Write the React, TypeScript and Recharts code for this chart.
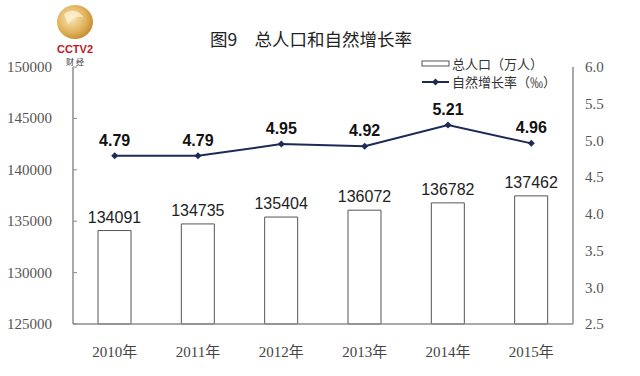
import {
  ComposedChart,
  Bar,
  Line,
  XAxis,
  YAxis,
  LabelList,
  Legend,
} from 'recharts';

const years = ['2010年', '2011年', '2012年', '2013年', '2014年', '2015年'];
const population = [134091, 134735, 135404, 136072, 136782, 137462];
const growthRate = [4.79, 4.79, 4.95, 4.92, 5.21, 4.96];
const leftTicks = [125000, 130000, 135000, 140000, 145000, 150000];
const rightTicks = [2.5, 3.0, 3.5, 4.0, 4.5, 5.0, 5.5, 6.0];

const data = years.map((year, i) => ({
  year,
  population: population[i],
  rate: growthRate[i],
}));

const SERIF = '"Liberation Serif", "Noto Sans CJK SC", serif';
const SANS = '"Liberation Sans", Arial, sans-serif';
const CJK = '"Noto Sans CJK SC", sans-serif';
const LINE_COLOR = '#1c2a55';
const AXIS_COLOR = '#8c8c8c';

// 左轴刻度：文字 + 轴内侧的短刻度线
const LeftTick = (props: any) => {
  const { x, y, payload } = props;
  return (
    <g>
      <line x1={x + 21} x2={x + 25} y1={y} y2={y} stroke={AXIS_COLOR} />
      <text
        x={x}
        y={y}
        dy={5}
        textAnchor="end"
        fontSize={15}
        fontFamily={SERIF}
        fill="#555"
      >
        {payload.value}
      </text>
    </g>
  );
};

const Diamond = (props: any) => {
  const { cx, cy } = props;
  if (cx == null || cy == null) return null;
  const r = 3.5;
  return (
    <path
      d={`M${cx},${cy - r} L${cx + r},${cy} L${cx},${cy + r} L${cx - r},${cy} Z`}
      fill={LINE_COLOR}
    />
  );
};

const LegendBox = () => (
  <div style={{ fontFamily: CJK, fontSize: 13, color: '#333', lineHeight: '18px' }}>
    <div style={{ display: 'flex', alignItems: 'center' }}>
      <svg width={32} height={18}>
        <rect x={2} y={6} width={27} height={5} fill="#fff" stroke="#555" />
      </svg>
      <span>总人口（万人）</span>
    </div>
    <div style={{ display: 'flex', alignItems: 'center' }}>
      <svg width={32} height={18}>
        <line x1={2} x2={29} y1={9} y2={9} stroke={LINE_COLOR} strokeWidth={2} />
        <path d="M15.5,5.5 L19,9 L15.5,12.5 L12,9 Z" fill={LINE_COLOR} />
      </svg>
      <span>自然增长率（‰）</span>
    </div>
  </div>
);

const Logo = () => (
  <svg
    width={50}
    height={70}
    style={{ position: 'absolute', left: 50, top: 2 }}
  >
    <defs>
      <radialGradient id="gold" cx="40%" cy="40%" r="60%">
        <stop offset="0%" stopColor="#fbe7b5" />
        <stop offset="70%" stopColor="#e0b15a" />
        <stop offset="100%" stopColor="#c8923a" />
      </radialGradient>
    </defs>
    <ellipse cx={25} cy={20} rx={18} ry={17} fill="url(#gold)" />
    <path d="M14,12 Q25,4 34,16 Q26,12 18,22 Z" fill="#fff6dc" opacity={0.7} />
    <text x={25} y={51} textAnchor="middle" fontSize={11} fontWeight="bold" fontFamily={SANS} fill="#c0181f">
      CCTV2
    </text>
    <text x={25} y={63} textAnchor="middle" fontSize={8} fontFamily={CJK} fill="#333">
      财 经
    </text>
  </svg>
);

export default function App() {
  return (
    <div
      style={{
        position: 'absolute',
        left: 0,
        top: 0,
        width: 640,
        height: 376,
        background: '#fff',
      }}
    >
      <Logo />
      <div
        style={{
          position: 'absolute',
          left: 0,
          width: 622,
          top: 26,
          textAlign: 'center',
          fontFamily: CJK,
          fontSize: 17.5,
          color: '#222',
          whiteSpace: 'pre',
        }}
      >
        图9　总人口和自然增长率
      </div>
      <ComposedChart
        width={640}
        height={376}
        data={data}
        margin={{ top: 67, right: 0, left: 0, bottom: 0 }}
        style={{ position: 'absolute', left: 0, top: 0 }}
      >
        <XAxis
          dataKey="year"
          height={52}
          tickLine={false}
          axisLine={{ stroke: AXIS_COLOR, strokeWidth: 1.5 }}
          tickMargin={16}
          tick={{ fontSize: 15, fontFamily: SERIF, fill: '#444' }}
        />
        <YAxis
          yAxisId="left"
          width={73}
          domain={[125000, 150000]}
          ticks={leftTicks}
          interval={0}
          tickSize={0}
          tickMargin={21}
          axisLine={{ stroke: AXIS_COLOR, strokeWidth: 1.5 }}
          tick={<LeftTick />}
        />
        <YAxis
          yAxisId="right"
          orientation="right"
          width={67}
          domain={[2.5, 6.0]}
          ticks={rightTicks}
          interval={0}
          tickSize={0}
          tickMargin={12}
          tickFormatter={(v: number) => v.toFixed(1)}
          axisLine={{ stroke: AXIS_COLOR, strokeWidth: 1.5 }}
          tick={{ fontSize: 15, fontFamily: SERIF, fill: '#555' }}
        />
        <Legend
          layout="vertical"
          align="center"
          verticalAlign="middle"
          content={<LegendBox />}
          wrapperStyle={{ position: 'absolute', left: 420, top: 55, width: 150 }}
        />
        <Bar
          yAxisId="left"
          dataKey="population"
          name="总人口（万人）"
          barSize={33}
          fill="#fff"
          stroke="#555"
          strokeWidth={1}
          isAnimationActive={false}
        >
          <LabelList
            dataKey="population"
            position="top"
            offset={8}
            fontSize={16}
            fontFamily={SANS}
            fill="#222"
          />
        </Bar>
        <Line
          yAxisId="right"
          dataKey="rate"
          name="自然增长率（‰）"
          stroke={LINE_COLOR}
          strokeWidth={2}
          dot={<Diamond />}
          activeDot={false}
          isAnimationActive={false}
        >
          <LabelList
            dataKey="rate"
            position="top"
            offset={10}
            fontSize={16}
            fontWeight="bold"
            fontFamily={SANS}
            fill="#111"
            formatter={(v: any) => Number(v).toFixed(2)}
          />
        </Line>
      </ComposedChart>
    </div>
  );
}
